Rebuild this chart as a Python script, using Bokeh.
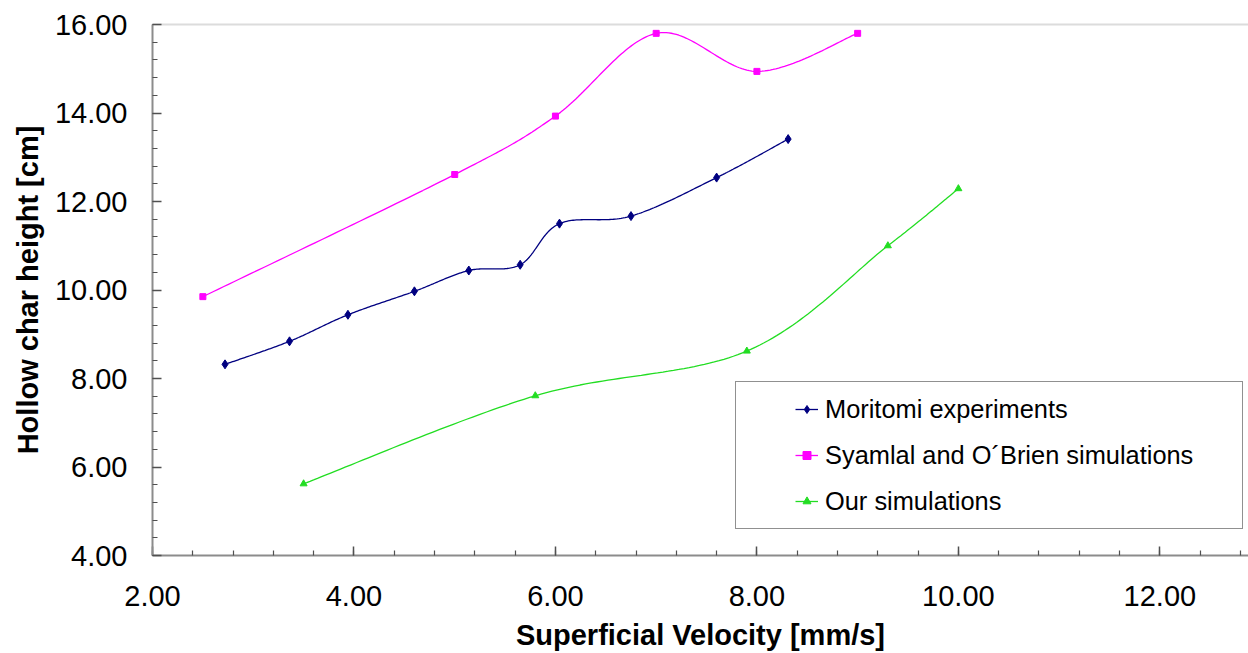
import numpy as np
from bokeh.plotting import figure
from bokeh.models import (Range1d, LinearAxis, SingleIntervalTicker, FixedTicker,
                          NumeralTickFormatter, Legend, LegendItem)
from bokeh.embed import file_html
from bokeh.resources import INLINE

# ---- data ----
moritomi_x = [2.72, 3.36, 3.94, 4.60, 5.14, 5.65, 6.04, 6.75, 7.60, 8.31]
moritomi_y = [8.32, 8.84, 9.44, 9.97, 10.44, 10.57, 11.50, 11.67, 12.54, 13.41]
syamlal_x = [2.5, 5.0, 6.0, 7.0, 8.0, 9.0]
syamlal_y = [9.85, 12.61, 13.93, 15.80, 14.94, 15.80]
ours_x = [3.5, 5.8, 7.9, 9.3, 10.0]
ours_y = [5.62, 7.61, 8.62, 11.00, 12.29]

x_label = "Superficial Velocity [mm/s]"
y_label = "Hollow char height [cm]"
names = ["Moritomi experiments", "Syamlal and O\u00b4Brien simulations", "Our simulations"]
colors = ["#000080", "#ff00ff", "#22dd22"]

FONT = "Liberation Sans"


def smooth(xs, ys, n=40):
    """Smoothed (Catmull-Rom / Bezier) rendering of the line through the data points."""
    P = np.column_stack([xs, ys]).astype(float)
    m = len(P)
    out = [P[0]]
    t = np.linspace(0, 1, n + 1)[1:, None]
    for i in range(m - 1):
        p0 = P[i - 1] if i > 0 else P[i]
        p1 = P[i]
        p2 = P[i + 1]
        p3 = P[i + 2] if i + 2 < m else P[i + 1]
        c1 = p1 + (p2 - p0) / 6.0
        c2 = p2 - (p3 - p1) / 6.0
        seg = (1 - t) ** 3 * p1 + 3 * (1 - t) ** 2 * t * c1 + 3 * (1 - t) * t ** 2 * c2 + t ** 3 * p2
        out.extend(seg)
    out = np.array(out)
    return out[:, 0], out[:, 1]


p = figure(width=1248, height=653, output_backend="svg", toolbar_location=None,
           x_range=Range1d(2, 12.88), y_range=Range1d(4, 16),
           min_border_left=152, min_border_right=0, min_border_top=24, min_border_bottom=95,
           background_fill_color="white", border_fill_color="white")
p.outline_line_color = None
p.xgrid.visible = False
p.ygrid.visible = False

for ax in (p.xaxis[0], p.yaxis[0]):
    ax.ticker = SingleIntervalTicker(interval=2, num_minor_ticks=5)
    ax.formatter = NumeralTickFormatter(format="0.00")
    ax.axis_line_color = "#8c8c8c"
    ax.axis_line_width = 2
    ax.major_tick_in = 9
    ax.major_tick_out = 0
    ax.minor_tick_in = 5
    ax.minor_tick_out = 0
    ax.major_tick_line_color = "#505050"
    ax.major_tick_line_width = 1.5
    ax.minor_tick_line_color = "#505050"
    ax.minor_tick_line_width = 1.2
    ax.major_label_text_font = FONT
    ax.major_label_text_font_size = "29px"
    ax.major_label_text_color = "black"
    ax.axis_label_text_font = FONT
    ax.axis_label_text_font_style = "bold"
    ax.axis_label_text_font_size = "29px"
    ax.axis_label_text_color = "black"

p.xaxis.axis_label = x_label
p.yaxis.axis_label = y_label
p.xaxis.major_label_standoff = 30
p.yaxis.major_label_standoff = 25
p.xaxis.axis_label_standoff = 10
p.yaxis.axis_label_standoff = 8

top_axis = LinearAxis(ticker=FixedTicker(ticks=[]), axis_line_color="#dcdcdc", axis_line_width=2,
                      major_tick_in=0, major_tick_out=0, minor_tick_in=0, minor_tick_out=0)
p.add_layout(top_axis, "above")

items = []
series = [(moritomi_x, moritomi_y, "diamond", 9), (syamlal_x, syamlal_y, "square", 6),
          (ours_x, ours_y, "triangle", 7)]
for (xs, ys, marker, size), name, col in zip(series, names, colors):
    sx, sy = smooth(xs, ys)
    r_line = p.line(sx, sy, line_color=col, line_width=1.3)
    r_pts = p.scatter(xs, ys, marker=marker, size=size, fill_color=col, line_color=col)
    items.append(LegendItem(label=name, renderers=[r_line, r_pts]))

legend = Legend(items=items, location=(583, 26), margin=0, padding=10, spacing=12,
                glyph_width=23, glyph_height=20, label_height=34, label_standoff=7,
                label_width=407, title=" ", title_location="left",
                title_text_font_size="1px", title_standoff=48,
                label_text_font=FONT, label_text_font_size="25.4px", label_text_color="black",
                border_line_color="#222222", border_line_width=1,
                background_fill_color="white", background_fill_alpha=1.0)
p.add_layout(legend, "center")

open("out.html", "w").write(file_html(p, INLINE))
